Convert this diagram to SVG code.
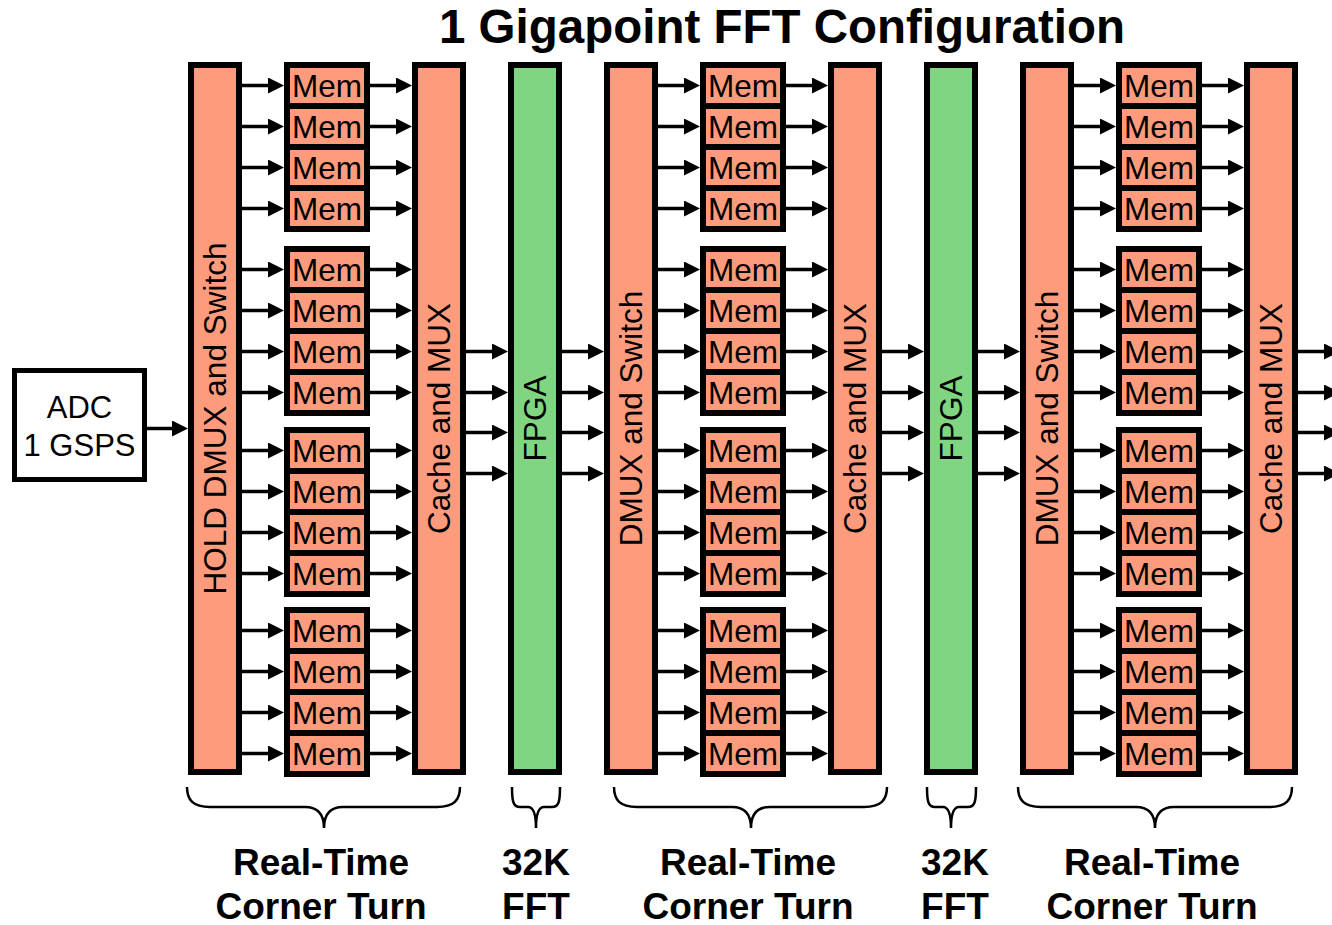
<svg xmlns="http://www.w3.org/2000/svg" width="1332" height="925" viewBox="0 0 1332 925">
<style>
.bar{fill:#FF9B7D;stroke:#000;stroke-width:6}
.fpga{fill:#80D680;stroke:#000;stroke-width:6}
.mem{fill:#FF9B7D;stroke:#000;stroke-width:6}
.box{fill:#fff;stroke:#000;stroke-width:5}
.t{font-family:"Liberation Sans",Arial,sans-serif;fill:#000}
.mt{font-size:31.5px;text-anchor:middle}
.vt{font-size:31.5px;text-anchor:middle}
.lb{font-size:37px;font-weight:bold;text-anchor:middle}
.ar{stroke:#000;stroke-width:3.5;fill:none;marker-end:url(#ah)}
.br{stroke:#000;stroke-width:2.5;fill:none}
</style>
<defs>
<marker id="ah" viewBox="0 0 16 16" refX="7" refY="8" markerWidth="16" markerHeight="16" markerUnits="userSpaceOnUse" orient="auto">
<path d="M0,0 L16,8 L0,16 z" fill="#000"/>
</marker>
</defs>
<rect width="1332" height="925" fill="#fff"/>
<text class="t" x="782" y="43" font-size="47.5" font-weight="bold" text-anchor="middle">1 Gigapoint FFT Configuration</text>

<g id="adc"><rect class="box" x="14.5" y="370.5" width="130" height="109"/>
<text class="t" x="79.5" y="418" font-size="31" text-anchor="middle">ADC</text>
<text class="t" x="79.5" y="456" font-size="31" text-anchor="middle">1 GSPS</text></g>

<g id="hold-dmux"><rect class="bar" x="191" y="65" width="48" height="707"/><text class="t vt" transform="translate(215,418.5) rotate(-90)" y="11">HOLD DMUX and Switch</text></g>
<g id="cache1"><rect class="bar" x="415" y="65" width="48" height="707"/><text class="t vt" transform="translate(439,418.5) rotate(-90)" y="11">Cache and MUX</text></g>
<g id="fpga1"><rect class="fpga" x="511" y="65" width="48" height="707"/><text class="t vt" transform="translate(535,418.5) rotate(-90)" y="11">FPGA</text></g>
<g id="dmux2"><rect class="bar" x="607" y="65" width="48" height="707"/><text class="t vt" transform="translate(631,418.5) rotate(-90)" y="11">DMUX and Switch</text></g>
<g id="cache2"><rect class="bar" x="831" y="65" width="48" height="707"/><text class="t vt" transform="translate(855,418.5) rotate(-90)" y="11">Cache and MUX</text></g>
<g id="fpga2"><rect class="fpga" x="927" y="65" width="48" height="707"/><text class="t vt" transform="translate(951,418.5) rotate(-90)" y="11">FPGA</text></g>
<g id="dmux3"><rect class="bar" x="1023" y="65" width="48" height="707"/><text class="t vt" transform="translate(1047,418.5) rotate(-90)" y="11">DMUX and Switch</text></g>
<g id="cache3"><rect class="bar" x="1247" y="65" width="48" height="707"/><text class="t vt" transform="translate(1271,418.5) rotate(-90)" y="11">Cache and MUX</text></g>

<g id="mem-1">
<g id="mem-1-01"><rect class="mem" x="287" y="65" width="80" height="41"/><text class="t mt" x="327" y="96.5">Mem</text></g>
<g id="mem-1-02"><rect class="mem" x="287" y="106" width="80" height="41"/><text class="t mt" x="327" y="137.5">Mem</text></g>
<g id="mem-1-03"><rect class="mem" x="287" y="147" width="80" height="41"/><text class="t mt" x="327" y="178.5">Mem</text></g>
<g id="mem-1-04"><rect class="mem" x="287" y="188" width="80" height="41"/><text class="t mt" x="327" y="219.5">Mem</text></g>
<g id="mem-1-05"><rect class="mem" x="287" y="249" width="80" height="41"/><text class="t mt" x="327" y="280.5">Mem</text></g>
<g id="mem-1-06"><rect class="mem" x="287" y="290" width="80" height="41"/><text class="t mt" x="327" y="321.5">Mem</text></g>
<g id="mem-1-07"><rect class="mem" x="287" y="331" width="80" height="41"/><text class="t mt" x="327" y="362.5">Mem</text></g>
<g id="mem-1-08"><rect class="mem" x="287" y="372" width="80" height="41"/><text class="t mt" x="327" y="403.5">Mem</text></g>
<g id="mem-1-09"><rect class="mem" x="287" y="430" width="80" height="41"/><text class="t mt" x="327" y="461.5">Mem</text></g>
<g id="mem-1-10"><rect class="mem" x="287" y="471" width="80" height="41"/><text class="t mt" x="327" y="502.5">Mem</text></g>
<g id="mem-1-11"><rect class="mem" x="287" y="512" width="80" height="41"/><text class="t mt" x="327" y="543.5">Mem</text></g>
<g id="mem-1-12"><rect class="mem" x="287" y="553" width="80" height="41"/><text class="t mt" x="327" y="584.5">Mem</text></g>
<g id="mem-1-13"><rect class="mem" x="287" y="610" width="80" height="41"/><text class="t mt" x="327" y="641.5">Mem</text></g>
<g id="mem-1-14"><rect class="mem" x="287" y="651" width="80" height="41"/><text class="t mt" x="327" y="682.5">Mem</text></g>
<g id="mem-1-15"><rect class="mem" x="287" y="692" width="80" height="41"/><text class="t mt" x="327" y="723.5">Mem</text></g>
<g id="mem-1-16"><rect class="mem" x="287" y="733" width="80" height="41"/><text class="t mt" x="327" y="764.5">Mem</text></g>
</g>
<g id="mem-2">
<g id="mem-2-01"><rect class="mem" x="703" y="65" width="80" height="41"/><text class="t mt" x="743" y="96.5">Mem</text></g>
<g id="mem-2-02"><rect class="mem" x="703" y="106" width="80" height="41"/><text class="t mt" x="743" y="137.5">Mem</text></g>
<g id="mem-2-03"><rect class="mem" x="703" y="147" width="80" height="41"/><text class="t mt" x="743" y="178.5">Mem</text></g>
<g id="mem-2-04"><rect class="mem" x="703" y="188" width="80" height="41"/><text class="t mt" x="743" y="219.5">Mem</text></g>
<g id="mem-2-05"><rect class="mem" x="703" y="249" width="80" height="41"/><text class="t mt" x="743" y="280.5">Mem</text></g>
<g id="mem-2-06"><rect class="mem" x="703" y="290" width="80" height="41"/><text class="t mt" x="743" y="321.5">Mem</text></g>
<g id="mem-2-07"><rect class="mem" x="703" y="331" width="80" height="41"/><text class="t mt" x="743" y="362.5">Mem</text></g>
<g id="mem-2-08"><rect class="mem" x="703" y="372" width="80" height="41"/><text class="t mt" x="743" y="403.5">Mem</text></g>
<g id="mem-2-09"><rect class="mem" x="703" y="430" width="80" height="41"/><text class="t mt" x="743" y="461.5">Mem</text></g>
<g id="mem-2-10"><rect class="mem" x="703" y="471" width="80" height="41"/><text class="t mt" x="743" y="502.5">Mem</text></g>
<g id="mem-2-11"><rect class="mem" x="703" y="512" width="80" height="41"/><text class="t mt" x="743" y="543.5">Mem</text></g>
<g id="mem-2-12"><rect class="mem" x="703" y="553" width="80" height="41"/><text class="t mt" x="743" y="584.5">Mem</text></g>
<g id="mem-2-13"><rect class="mem" x="703" y="610" width="80" height="41"/><text class="t mt" x="743" y="641.5">Mem</text></g>
<g id="mem-2-14"><rect class="mem" x="703" y="651" width="80" height="41"/><text class="t mt" x="743" y="682.5">Mem</text></g>
<g id="mem-2-15"><rect class="mem" x="703" y="692" width="80" height="41"/><text class="t mt" x="743" y="723.5">Mem</text></g>
<g id="mem-2-16"><rect class="mem" x="703" y="733" width="80" height="41"/><text class="t mt" x="743" y="764.5">Mem</text></g>
</g>
<g id="mem-3">
<g id="mem-3-01"><rect class="mem" x="1119" y="65" width="80" height="41"/><text class="t mt" x="1159" y="96.5">Mem</text></g>
<g id="mem-3-02"><rect class="mem" x="1119" y="106" width="80" height="41"/><text class="t mt" x="1159" y="137.5">Mem</text></g>
<g id="mem-3-03"><rect class="mem" x="1119" y="147" width="80" height="41"/><text class="t mt" x="1159" y="178.5">Mem</text></g>
<g id="mem-3-04"><rect class="mem" x="1119" y="188" width="80" height="41"/><text class="t mt" x="1159" y="219.5">Mem</text></g>
<g id="mem-3-05"><rect class="mem" x="1119" y="249" width="80" height="41"/><text class="t mt" x="1159" y="280.5">Mem</text></g>
<g id="mem-3-06"><rect class="mem" x="1119" y="290" width="80" height="41"/><text class="t mt" x="1159" y="321.5">Mem</text></g>
<g id="mem-3-07"><rect class="mem" x="1119" y="331" width="80" height="41"/><text class="t mt" x="1159" y="362.5">Mem</text></g>
<g id="mem-3-08"><rect class="mem" x="1119" y="372" width="80" height="41"/><text class="t mt" x="1159" y="403.5">Mem</text></g>
<g id="mem-3-09"><rect class="mem" x="1119" y="430" width="80" height="41"/><text class="t mt" x="1159" y="461.5">Mem</text></g>
<g id="mem-3-10"><rect class="mem" x="1119" y="471" width="80" height="41"/><text class="t mt" x="1159" y="502.5">Mem</text></g>
<g id="mem-3-11"><rect class="mem" x="1119" y="512" width="80" height="41"/><text class="t mt" x="1159" y="543.5">Mem</text></g>
<g id="mem-3-12"><rect class="mem" x="1119" y="553" width="80" height="41"/><text class="t mt" x="1159" y="584.5">Mem</text></g>
<g id="mem-3-13"><rect class="mem" x="1119" y="610" width="80" height="41"/><text class="t mt" x="1159" y="641.5">Mem</text></g>
<g id="mem-3-14"><rect class="mem" x="1119" y="651" width="80" height="41"/><text class="t mt" x="1159" y="682.5">Mem</text></g>
<g id="mem-3-15"><rect class="mem" x="1119" y="692" width="80" height="41"/><text class="t mt" x="1159" y="723.5">Mem</text></g>
<g id="mem-3-16"><rect class="mem" x="1119" y="733" width="80" height="41"/><text class="t mt" x="1159" y="764.5">Mem</text></g>
</g>

<g id="connectors">
<path class="ar" d="M147,428.5 H179"/>
<g id="arrows-s1-in">
<path class="ar" d="M242,85.5H275"/><path class="ar" d="M242,126.5H275"/><path class="ar" d="M242,167.5H275"/><path class="ar" d="M242,208.5H275"/>
<path class="ar" d="M242,269.5H275"/><path class="ar" d="M242,310.5H275"/><path class="ar" d="M242,351.5H275"/><path class="ar" d="M242,392.5H275"/>
<path class="ar" d="M242,450.5H275"/><path class="ar" d="M242,491.5H275"/><path class="ar" d="M242,532.5H275"/><path class="ar" d="M242,573.5H275"/>
<path class="ar" d="M242,630.5H275"/><path class="ar" d="M242,671.5H275"/><path class="ar" d="M242,712.5H275"/><path class="ar" d="M242,753.5H275"/>
</g>
<g id="arrows-s1-out">
<path class="ar" d="M370,85.5H403"/><path class="ar" d="M370,126.5H403"/><path class="ar" d="M370,167.5H403"/><path class="ar" d="M370,208.5H403"/>
<path class="ar" d="M370,269.5H403"/><path class="ar" d="M370,310.5H403"/><path class="ar" d="M370,351.5H403"/><path class="ar" d="M370,392.5H403"/>
<path class="ar" d="M370,450.5H403"/><path class="ar" d="M370,491.5H403"/><path class="ar" d="M370,532.5H403"/><path class="ar" d="M370,573.5H403"/>
<path class="ar" d="M370,630.5H403"/><path class="ar" d="M370,671.5H403"/><path class="ar" d="M370,712.5H403"/><path class="ar" d="M370,753.5H403"/>
</g>
<g id="arrows-s2-in">
<path class="ar" d="M658,85.5H691"/><path class="ar" d="M658,126.5H691"/><path class="ar" d="M658,167.5H691"/><path class="ar" d="M658,208.5H691"/>
<path class="ar" d="M658,269.5H691"/><path class="ar" d="M658,310.5H691"/><path class="ar" d="M658,351.5H691"/><path class="ar" d="M658,392.5H691"/>
<path class="ar" d="M658,450.5H691"/><path class="ar" d="M658,491.5H691"/><path class="ar" d="M658,532.5H691"/><path class="ar" d="M658,573.5H691"/>
<path class="ar" d="M658,630.5H691"/><path class="ar" d="M658,671.5H691"/><path class="ar" d="M658,712.5H691"/><path class="ar" d="M658,753.5H691"/>
</g>
<g id="arrows-s2-out">
<path class="ar" d="M786,85.5H819"/><path class="ar" d="M786,126.5H819"/><path class="ar" d="M786,167.5H819"/><path class="ar" d="M786,208.5H819"/>
<path class="ar" d="M786,269.5H819"/><path class="ar" d="M786,310.5H819"/><path class="ar" d="M786,351.5H819"/><path class="ar" d="M786,392.5H819"/>
<path class="ar" d="M786,450.5H819"/><path class="ar" d="M786,491.5H819"/><path class="ar" d="M786,532.5H819"/><path class="ar" d="M786,573.5H819"/>
<path class="ar" d="M786,630.5H819"/><path class="ar" d="M786,671.5H819"/><path class="ar" d="M786,712.5H819"/><path class="ar" d="M786,753.5H819"/>
</g>
<g id="arrows-s3-in">
<path class="ar" d="M1074,85.5H1107"/><path class="ar" d="M1074,126.5H1107"/><path class="ar" d="M1074,167.5H1107"/><path class="ar" d="M1074,208.5H1107"/>
<path class="ar" d="M1074,269.5H1107"/><path class="ar" d="M1074,310.5H1107"/><path class="ar" d="M1074,351.5H1107"/><path class="ar" d="M1074,392.5H1107"/>
<path class="ar" d="M1074,450.5H1107"/><path class="ar" d="M1074,491.5H1107"/><path class="ar" d="M1074,532.5H1107"/><path class="ar" d="M1074,573.5H1107"/>
<path class="ar" d="M1074,630.5H1107"/><path class="ar" d="M1074,671.5H1107"/><path class="ar" d="M1074,712.5H1107"/><path class="ar" d="M1074,753.5H1107"/>
</g>
<g id="arrows-s3-out">
<path class="ar" d="M1202,85.5H1235"/><path class="ar" d="M1202,126.5H1235"/><path class="ar" d="M1202,167.5H1235"/><path class="ar" d="M1202,208.5H1235"/>
<path class="ar" d="M1202,269.5H1235"/><path class="ar" d="M1202,310.5H1235"/><path class="ar" d="M1202,351.5H1235"/><path class="ar" d="M1202,392.5H1235"/>
<path class="ar" d="M1202,450.5H1235"/><path class="ar" d="M1202,491.5H1235"/><path class="ar" d="M1202,532.5H1235"/><path class="ar" d="M1202,573.5H1235"/>
<path class="ar" d="M1202,630.5H1235"/><path class="ar" d="M1202,671.5H1235"/><path class="ar" d="M1202,712.5H1235"/><path class="ar" d="M1202,753.5H1235"/>
</g>
<g id="arrows-fpga">
<path class="ar" d="M466,351.5H499"/><path class="ar" d="M466,392.5H499"/><path class="ar" d="M466,432.5H499"/><path class="ar" d="M466,473.5H499"/>
<path class="ar" d="M562,351.5H595"/><path class="ar" d="M562,392.5H595"/><path class="ar" d="M562,432.5H595"/><path class="ar" d="M562,473.5H595"/>
<path class="ar" d="M882,351.5H915"/><path class="ar" d="M882,392.5H915"/><path class="ar" d="M882,432.5H915"/><path class="ar" d="M882,473.5H915"/>
<path class="ar" d="M978,351.5H1011"/><path class="ar" d="M978,392.5H1011"/><path class="ar" d="M978,432.5H1011"/><path class="ar" d="M978,473.5H1011"/>
<path class="ar" d="M1298,351.5H1331"/><path class="ar" d="M1298,392.5H1331"/><path class="ar" d="M1298,432.5H1331"/><path class="ar" d="M1298,473.5H1331"/>
</g>
</g>

<g id="braces">
<path class="br" d="M187,787 C187,800 193,807 210,807 L305,807 C318,807 324,815 324,828 C324,815 330,807 343,807 L437,807 C454,807 460,800 460,787"/>
<path class="br" d="M512,787 C512,801 513,807 520,807 L528,807 C533,807 536,812 536,828 C536,812 539,807 544,807 L552,807 C559,807 560,801 560,787"/>
<path class="br" d="M614,787 C614,800 620,807 637,807 L732,807 C745,807 751,815 751,828 C751,815 757,807 770,807 L864,807 C881,807 887,800 887,787"/>
<path class="br" d="M927,787 C927,801 928,807 935,807 L943,807 C948,807 951,812 951,828 C951,812 954,807 959,807 L968,807 C975,807 976,801 976,787"/>
<path class="br" d="M1018,787 C1018,800 1024,807 1041,807 L1136,807 C1149,807 1155,815 1155,828 C1155,815 1161,807 1174,807 L1269,807 C1286,807 1292,800 1292,787"/>
</g>

<g id="labels">
<text class="t lb" x="321" y="875">Real-Time</text><text class="t lb" x="321" y="919">Corner Turn</text>
<text class="t lb" x="536" y="875">32K</text><text class="t lb" x="536" y="919">FFT</text>
<text class="t lb" x="748" y="875">Real-Time</text><text class="t lb" x="748" y="919">Corner Turn</text>
<text class="t lb" x="955" y="875">32K</text><text class="t lb" x="955" y="919">FFT</text>
<text class="t lb" x="1152" y="875">Real-Time</text><text class="t lb" x="1152" y="919">Corner Turn</text>
</g>
</svg>
